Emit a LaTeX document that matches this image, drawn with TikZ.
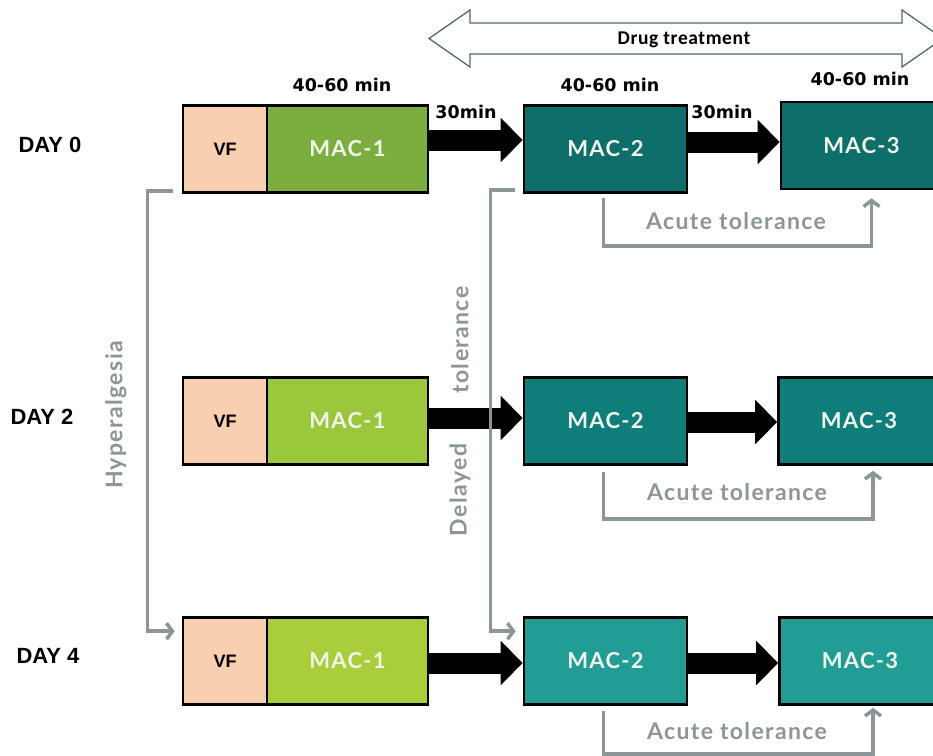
\documentclass[tikz,border=0pt]{standalone}
\usepackage{fontspec}
\usetikzlibrary{arrows.meta,calc}
\newfontfamily\fday{Liberation Sans}
\newfontfamily\fnum{DejaVu Sans}
\newfontfamily\fmac{Lato}[LetterSpace=6]
\newfontfamily\fdrug{Carlito}[LetterSpace=3]
\definecolor{vfc}{HTML}{F9CFB1}
\definecolor{gA}{HTML}{7CAE3F}
\definecolor{gB}{HTML}{9AC73C}
\definecolor{gC}{HTML}{AACD3A}
\definecolor{tA}{HTML}{0E6E6A}
\definecolor{tB}{HTML}{0F7D79}
\definecolor{tC}{HTML}{229D95}
\definecolor{gry}{HTML}{8C9698}
\definecolor{txtw}{HTML}{F2F5EE}
\definecolor{dbl}{HTML}{4D6B6B}
\begin{document}
\begin{tikzpicture}[x=1pt,y=-1pt,
  box/.style={draw=black, line width=2.6pt, minimum height=87pt, inner sep=0pt},
  vfbox/.style={box, fill=vfc, minimum width=84pt, font=\fday\bfseries\fontsize{18}{20}\selectfont},
  macbox/.style={box, text=txtw, font=\fmac\bfseries\fontsize{22}{24}\selectfont},
  blk/.style={line width=21pt, -{Triangle[length=22pt,width=43pt]}},
  gbr/.style={draw=gry, line width=3.5pt, -{Straight Barb[length=6pt,width=16pt]}},
  day/.style={font=\fday\bfseries\fontsize{22}{24}\selectfont},
  tim/.style={font=\fnum\bfseries\fontsize{17.5}{19}\selectfont},
  acute/.style={text=gry, font=\fmac\bfseries\fontsize{23}{25}\selectfont},
  side/.style={text=gry, rotate=90, font=\fmac\bfseries\fontsize{23}{25}\selectfont}
]
\useasboundingbox (0,0) rectangle (933,755);
\fill[white] (0,0) rectangle (933,755);
\clip (0,0) rectangle (933,755);

% drug treatment double arrow
\draw[draw=dbl, line width=1.3pt, fill=white]
  (429,38.5) -- (470,10) -- (470,23) -- (902,23) -- (902,10) -- (943,38.5)
  -- (902,67) -- (902,54) -- (470,54) -- (470,67) -- cycle;
\node[font=\fdrug\bfseries\fontsize{19.5}{21}\selectfont] (drug) at (684,40) {Drug treatment};

% day labels
\node[day] (d0) at (50,145) {DAY 0};
\node[day] (d2) at (42,417) {DAY 2};
\node[day] (d4) at (48,656) {DAY 4};

% time labels
\node[tim] (t1) at (342,85) {40-60 min};
\node[tim] (t2) at (610,85) {40-60 min};
\node[tim] (t3) at (860,79) {40-60 min};
\node[tim] (s1) at (466,112) {30min};
\node[tim] (s2) at (722,112) {30min};

% row day 0
\node[vfbox] (vf0) at (225,149) {VF};
\node[macbox, fill=gA, minimum width=161pt] (m10) at (347.5,149) {MAC-1};
\node[macbox, fill=tA, minimum width=163pt] (m20) at (605.5,149) {MAC-2};
\node[macbox, fill=tA, minimum width=161pt] (m30) at (861.5,145.5) {MAC-3};
% row day 2
\node[vfbox] (vf2) at (225,421) {VF};
\node[macbox, fill=gB, minimum width=161pt] (m12) at (347.5,421) {MAC-1};
\node[macbox, fill=tB, minimum width=163pt] (m22) at (605.5,421) {MAC-2};
\node[macbox, fill=tB, minimum width=161pt] (m32) at (859,421) {MAC-3};
% row day 4
\node[vfbox] (vf4) at (225,661) {VF};
\node[macbox, fill=gC, minimum width=161pt] (m14) at (347.5,661) {MAC-1};
\node[macbox, fill=tC, minimum width=163pt] (m24) at (605.5,661) {MAC-2};
\node[macbox, fill=tC, minimum width=161pt] (m34) at (860,661) {MAC-3};

% black arrows
\draw[blk] ([yshift=9pt]m10.east) -- ([yshift=9pt]m20.west);
\draw[blk] ([yshift=7pt]m20.east) -- ([yshift=3.5pt]m30.west);
\draw[blk] ([yshift=3pt]m12.east) -- ([yshift=3pt]m22.west);
\draw[blk] ([yshift=-1pt]m22.east) -- ([yshift=-1pt]m32.west);
\draw[blk] ([yshift=-2pt]m14.east) -- ([yshift=-2pt]m24.west);
\draw[blk] ([yshift=-2pt]m24.east) -- ([yshift=-2pt]m34.west);

% acute tolerance brackets
\draw[gbr] ([xshift=-2pt,yshift=-4pt]m20.south) -- ++(0,48) -| ([xshift=10pt,yshift=-8pt]m30.south);
\node[acute] (a0) at (736,221) {Acute tolerance};
\draw[gbr] ([xshift=-2pt,yshift=-6pt]m22.south) -- ++(0,47) -| ([xshift=14pt,yshift=-5pt]m32.south);
\node[acute] (a2) at (737,492) {Acute tolerance};
\draw[gbr] ([xshift=-2pt,yshift=-5pt]m24.south) -- ++(0,43) -| ([xshift=13pt,yshift=-2pt]m34.south);
\node[acute] (a4) at (737,731) {Acute tolerance};

% hyperalgesia bracket
\draw[gbr] ([xshift=-9pt,yshift=3pt]vf0.south west) -- ++(-25,0) |- ([xshift=-7pt,yshift=-15pt]vf4.north west);
\node[side] (hy) at (116,415) {Hyperalgesia};

% delayed tolerance bracket
\draw[gbr] ([xshift=-8pt,yshift=4pt]m20.south west) -- ++(-24,0) |- ([xshift=-7pt,yshift=-15pt]m24.north west);
\node[side] (tol) at (460,340) {tolerance};
\node[side] (del) at (460,490) {Delayed};
\end{tikzpicture}
\end{document}
